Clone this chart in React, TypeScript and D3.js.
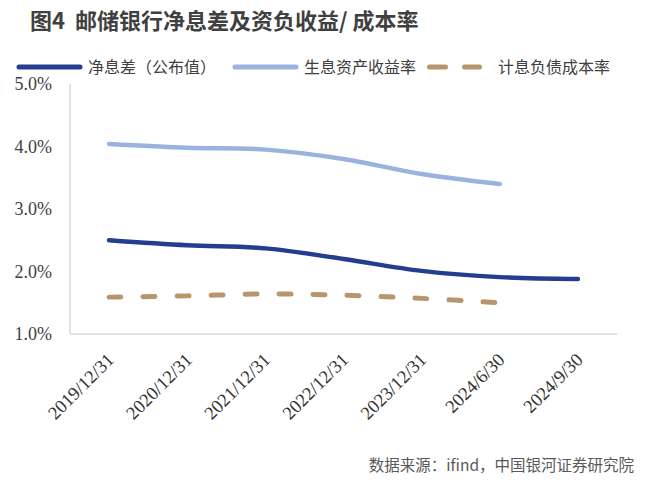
import React from "react";
import * as d3 from "d3";

const categories = [
  "2019/12/31",
  "2020/12/31",
  "2021/12/31",
  "2022/12/31",
  "2023/12/31",
  "2024/6/30",
  "2024/9/30",
];
// 净息差（公布值）
const nimValues = [2.5, 2.42, 2.37, 2.2, 2.01, 1.91, 1.88];
// 生息资产收益率
const yieldValues = [4.04, 3.98, 3.95, 3.8, 3.56, 3.4];
// 计息负债成本率
const costValues = [1.59, 1.61, 1.64, 1.62, 1.57, 1.5];
const yTicks = [1, 2, 3, 4, 5];

const W = 648;
const H = 483;
const left = 70;
const right = 617;
const top = 84;
const bottom = 334;

const cjk = "'Noto Sans CJK SC', 'Noto Sans', sans-serif";
const serif = "'Liberation Serif', 'Times New Roman', 'DejaVu Serif', serif";

export default function App() {
  const x = d3.scaleBand<string>().domain(categories).range([left, right]);
  const y = d3.scaleLinear().domain([1, 5]).range([bottom, top]);
  const cx = (i: number) => (x(categories[i]) ?? 0) + x.bandwidth() / 2;

  const line = d3
    .line<number>()
    .x((_, i) => cx(i))
    .y((d) => y(d))
    .curve(d3.curveCatmullRom.alpha(0.5));

  const series = [
    { name: "净息差（公布值）", values: nimValues, color: "#243D8F", dash: null },
    { name: "生息资产收益率", values: yieldValues, color: "#9AB3DE", dash: null },
    { name: "计息负债成本率", values: costValues, color: "#B8966D", dash: "12 22" },
  ];

  return (
    <svg
      width={W}
      height={H}
      style={{ position: "fixed", left: 0, top: 0, background: "#fff" }}
    >
      <text
        x={30}
        y={29}
        style={{ fontFamily: cjk, fontWeight: "bold", fontSize: 22 }}
        fill="#404040"
      >
        {"图4\u00a0\u00a0邮储银行净息差及资负收益/ 成本率"}
      </text>

      {/* legend */}
      <g style={{ fontFamily: cjk, fontSize: 16 }} fill="#404040">
        <line x1={19} x2={80} y1={67} y2={67} stroke={series[0].color} strokeWidth={5} strokeLinecap="round" />
        <text x={88} y={73}>{series[0].name}</text>
        <line x1={235} x2={296} y1={67} y2={67} stroke={series[1].color} strokeWidth={5} strokeLinecap="round" />
        <text x={304} y={73}>{series[1].name}</text>
        <line x1={429.5} x2={445.5} y1={67} y2={67} stroke={series[2].color} strokeWidth={5} strokeLinecap="round" />
        <line x1={464.5} x2={479.5} y1={67} y2={67} stroke={series[2].color} strokeWidth={5} strokeLinecap="round" />
        <text x={498} y={73}>{series[2].name}</text>
      </g>

      {/* axes */}
      <line x1={left} x2={left} y1={top} y2={bottom} stroke="#d9d9d9" strokeWidth={1.5} />
      <line x1={left} x2={right} y1={bottom} y2={bottom} stroke="#d9d9d9" strokeWidth={1.5} />

      <g style={{ fontFamily: serif, fontSize: 18 }} fill="#404040" textAnchor="end">
        {yTicks.map((t) => (
          <text key={t} x={52} y={y(t)} dy="0.35em">
            {d3.format(".1f")(t)}%
          </text>
        ))}
      </g>

      <g style={{ fontFamily: serif, fontSize: 18.5 }} fill="#333">
        {categories.map((c, i) => (
          <text
            key={c}
            textAnchor="end"
            transform={`translate(${cx(i) + 6},${bottom + 27}) rotate(-45)`}
          >
            {c}
          </text>
        ))}
      </g>

      {series.map((s) => (
        <path
          key={s.name}
          d={line(s.values) ?? ""}
          fill="none"
          stroke={s.color}
          strokeWidth={s.dash ? 5 : 4.5}
          strokeLinecap="round"
          strokeDasharray={s.dash ?? undefined}
        />
      ))}

      <text
        x={634}
        y={471}
        textAnchor="end"
        style={{ fontFamily: cjk, fontSize: 15.5 }}
        fill="#595959"
      >
        数据来源：ifind，中国银河证券研究院
      </text>
    </svg>
  );
}
